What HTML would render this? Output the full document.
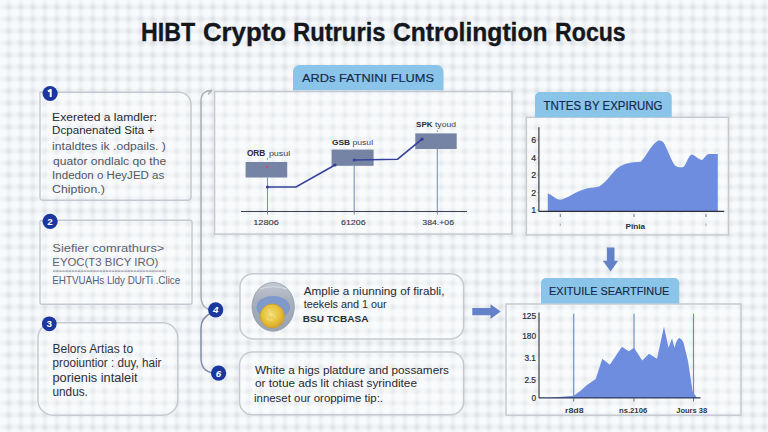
<!DOCTYPE html>
<html><head><meta charset="utf-8">
<style>
html,body{margin:0;padding:0;background:#f8fafc;}
body{width:768px;height:432px;overflow:hidden;}
svg{display:block;font-family:"Liberation Sans", sans-serif;}
</style></head><body>
<svg width="768" height="432" viewBox="0 0 768 432" font-family="Liberation Sans, sans-serif">
<defs>
<pattern id="grid" x="0" y="0" width="12" height="12" patternUnits="userSpaceOnUse">
<rect x="7.2" y="0" width="3.2" height="12" fill="#d0d5dc" fill-opacity="0.3"/>
<rect x="0" y="5.4" width="12" height="3.2" fill="#d0d5dc" fill-opacity="0.3"/>
<rect x="6.6" y="4.8" width="4.4" height="4.4" fill="#c9cfd6" fill-opacity="0.45"/>
</pattern>
<filter id="blur1" x="0" y="0" width="1" height="1"><feGaussianBlur stdDeviation="1.6"/></filter>
<radialGradient id="coin" cx="0.45" cy="0.42" r="0.6">
<stop offset="0" stop-color="#f2dd78"/><stop offset="0.6" stop-color="#e8c23c"/><stop offset="1" stop-color="#d4a02a"/>
</radialGradient>
<linearGradient id="shell" x1="0" y1="0" x2="0" y2="1">
<stop offset="0" stop-color="#c3c9d2"/><stop offset="0.35" stop-color="#a9b1be"/><stop offset="1" stop-color="#98a1b0"/>
</linearGradient>
</defs>
<rect width="768" height="432" fill="#f8fafc"/>
<rect width="768" height="432" fill="url(#grid)" filter="url(#blur1)"/>

<text x="141.09" y="40.6" font-size="24.9" fill="#14171c" font-weight="bold" stroke="#14171c" stroke-width="0.35" textLength="54.19" lengthAdjust="spacingAndGlyphs" >HIBT</text>
<text x="202.90" y="40.6" font-size="24.9" fill="#14171c" font-weight="bold" stroke="#14171c" stroke-width="0.35" textLength="83.09" lengthAdjust="spacingAndGlyphs" >Crypto</text>
<text x="292.99" y="40.6" font-size="24.9" fill="#14171c" font-weight="bold" stroke="#14171c" stroke-width="0.35" textLength="92.50" lengthAdjust="spacingAndGlyphs" >Rutruris</text>
<text x="392.90" y="40.6" font-size="24.9" fill="#14171c" font-weight="bold" stroke="#14171c" stroke-width="0.35" textLength="154.70" lengthAdjust="spacingAndGlyphs" >Cntrolingtion</text>
<text x="555.10" y="40.6" font-size="24.9" fill="#14171c" font-weight="bold" stroke="#14171c" stroke-width="0.35" textLength="70.59" lengthAdjust="spacingAndGlyphs" >Rocus</text>
<path d="M40,92.2 H179 A12,12 0 0 1 191,104.2 V197.3 A3,3 0 0 1 188,200.3 H43 A3,3 0 0 1 40,197.3 Z" fill="#ffffff" fill-opacity="0.3" stroke="#c6cad0" stroke-width="1.5"/>
<rect x="40" y="220.3" width="152" height="84" rx="2" fill="#ffffff" fill-opacity="0.3" stroke="#c6cad0" stroke-width="1.5"/>
<rect x="38" y="322.8" width="139.8" height="92.4" rx="15" fill="#ffffff" fill-opacity="0.3" stroke="#c6cad0" stroke-width="1.5"/>
<circle cx="50.1" cy="93.5" r="7.6" fill="#1b369e"/>
<path d="M47.9,91.3 L50.7,89.9 V97.0" fill="none" stroke="#ffffff" stroke-width="2" stroke-linejoin="round"/>
<circle cx="50.1" cy="221.3" r="7.6" fill="#1b369e"/>
<text x="50.1" y="224.8" font-size="9.8" fill="#ffffff" font-weight="bold" text-anchor="middle">2</text>
<circle cx="49.3" cy="323.8" r="7.4" fill="#1b369e"/>
<text x="49.3" y="327.3" font-size="9.8" fill="#ffffff" font-weight="bold" text-anchor="middle">3</text>
<text x="52.10" y="120.8" font-size="11.7" fill="#262a31" textLength="104.70" lengthAdjust="spacingAndGlyphs" >Exereted a lamdler:</text>
<text x="52.10" y="134.3" font-size="11.7" fill="#262a31" textLength="102.09" lengthAdjust="spacingAndGlyphs" >Dcpanenated Sita +</text>
<text x="52.10" y="149.6" font-size="11.7" fill="#51575f" textLength="113.70" lengthAdjust="spacingAndGlyphs" >intaldtes ik .odpails. )</text>
<text x="53.10" y="164.6" font-size="11.7" fill="#51575f" textLength="113.09" lengthAdjust="spacingAndGlyphs" >quator ondlalc qo the</text>
<text x="52.10" y="178.8" font-size="11.7" fill="#51575f" textLength="112.20" lengthAdjust="spacingAndGlyphs" >Indedon o HeyJED as</text>
<text x="52.10" y="192.6" font-size="11.7" fill="#51575f" textLength="52.69" lengthAdjust="spacingAndGlyphs" >Chiption.)</text>
<text x="52.30" y="251.6" font-size="11.6" fill="#5c6372" textLength="112.09" lengthAdjust="spacingAndGlyphs" >Siefier comrathurs&gt;</text>
<text x="52.30" y="266.2" font-size="11.6" fill="#5c6372" textLength="106.09" lengthAdjust="spacingAndGlyphs" >EYOC(T3 BICY IRO)</text>
<line x1="53" y1="271.1" x2="166" y2="271.1" stroke="#4a5262" stroke-opacity="0.75" stroke-width="0.9" stroke-dasharray="2.5 0.6"/>
<text x="52.30" y="283.8" font-size="11.6" fill="#56627a" textLength="127.90" lengthAdjust="spacingAndGlyphs" >EHTVUAHs Lldy DUrTi .Clice</text>
<text x="52.50" y="352.8" font-size="12.3" fill="#2d3138" textLength="80.59" lengthAdjust="spacingAndGlyphs" >Belors Artias to</text>
<text x="52.51" y="367.2" font-size="12.3" fill="#2d3138" textLength="108.89" lengthAdjust="spacingAndGlyphs" >prooiuntior : duy, hair</text>
<text x="52.49" y="381.5" font-size="12.3" fill="#2d3138" textLength="85.10" lengthAdjust="spacingAndGlyphs" >porienis intaleit</text>
<text x="52.51" y="395.6" font-size="12.3" fill="#2d3138" textLength="35.38" lengthAdjust="spacingAndGlyphs" >undus.</text>
<path d="M211.8,90.2 L207,91.2 Q201,93 201,101 V296 Q201,309 212,309.8" fill="none" stroke="#a6abb2" stroke-width="1.4"/>
<path d="M211.5,90.5 L208.2,94.3" fill="none" stroke="#a6abb2" stroke-width="1.3"/>
<path d="M211,313 Q201,318 201,328 V358 Q201,372 214,373" fill="none" stroke="#7f88a6" stroke-width="1.4"/>
<circle cx="215.7" cy="309.8" r="7.6" fill="#1b369e"/>
<text x="215.7" y="313.3" font-size="9.8" fill="#ffffff" font-weight="bold" text-anchor="middle" font-style="italic">4</text>
<circle cx="218.6" cy="373.2" r="7.6" fill="#1b369e"/>
<text x="218.6" y="376.7" font-size="9.8" fill="#ffffff" font-weight="bold" text-anchor="middle" font-style="italic">6</text>
<rect x="214.5" y="91.5" width="297.5" height="142.6" fill="#ffffff" fill-opacity="0.3" stroke="#c6cad0" stroke-width="1.5"/>
<path d="M293,90.3 V71.5 A6.5,6.5 0 0 1 299.5,65 H437 A6.5,6.5 0 0 1 443.5,71.5 V90.3 Z" fill="#8ac4e9"/>
<text x="301.90" y="81.9" font-size="11.5" fill="#16294a" stroke="#16294a" stroke-width="0.15" textLength="132.20" lengthAdjust="spacingAndGlyphs" >ARDs FATNINI FLUMS</text>
<line x1="241" y1="211.5" x2="467" y2="211.5" stroke="#3a4050" stroke-width="1.2"/>
<line x1="267.5" y1="177.5" x2="267.5" y2="211.5" stroke="#7a95b2" stroke-width="1.1"/>
<line x1="267.5" y1="212" x2="267.5" y2="214.5" stroke="#50555e" stroke-width="0.7"/>
<line x1="354.2" y1="165.8" x2="354.2" y2="211.5" stroke="#7a95b2" stroke-width="1.1"/>
<line x1="354.2" y1="212" x2="354.2" y2="214.5" stroke="#50555e" stroke-width="0.7"/>
<line x1="437.3" y1="149" x2="437.3" y2="211.5" stroke="#7a95b2" stroke-width="1.1"/>
<line x1="437.3" y1="212" x2="437.3" y2="214.5" stroke="#50555e" stroke-width="0.7"/>
<rect x="245.6" y="162" width="41.6" height="15.5" fill="#7583a5"/>
<rect x="331.6" y="149.6" width="42" height="16.2" fill="#7583a5"/>
<rect x="415.3" y="133.4" width="41.4" height="15.6" fill="#7583a5"/>
<polyline points="267.5,187 296,187 335,165" fill="none" stroke="#34409a" stroke-width="1.5"/>
<polyline points="354.2,160 397.6,159.2 422,139.2" fill="none" stroke="#34409a" stroke-width="1.5"/>
<circle cx="267.5" cy="187" r="1.6" fill="#34409a"/>
<circle cx="335" cy="165" r="1.6" fill="#34409a"/>
<circle cx="354.2" cy="160" r="1.6" fill="#34409a"/>
<circle cx="422" cy="139.2" r="1.6" fill="#34409a"/>
<circle cx="267" cy="167" r="1.2" fill="#d04a6a"/>
<line x1="267.4" y1="157.8" x2="267.4" y2="160.2" stroke="#6a6f78" stroke-width="0.7"/>
<line x1="437.3" y1="130" x2="437.3" y2="132" stroke="#6a6f78" stroke-width="0.7"/>
<text x="246.90" y="155.7" font-size="8.5" fill="#2a2e36" font-weight="bold" textLength="18.46" lengthAdjust="spacingAndGlyphs" >ORB</text>
<text x="268.90" y="155.7" font-size="7" fill="#3e434c" textLength="21.38" lengthAdjust="spacingAndGlyphs" >pusul</text>
<text x="332.00" y="144.8" font-size="7.9" fill="#2a2e36" font-weight="bold" textLength="18.18" lengthAdjust="spacingAndGlyphs" >GSB</text>
<text x="352.49" y="144.8" font-size="7" fill="#3e434c" textLength="20.57" lengthAdjust="spacingAndGlyphs" >pusul</text>
<text x="416.10" y="126.7" font-size="7.9" fill="#2a2e36" font-weight="bold" textLength="16.53" lengthAdjust="spacingAndGlyphs" >SPK</text>
<text x="435.00" y="126.7" font-size="7" fill="#3e434c" textLength="20.89" lengthAdjust="spacingAndGlyphs" >tyoud</text>
<text x="253.16" y="224.8" font-size="7.8" fill="#33373f" stroke="#33373f" stroke-width="0.1" textLength="25.73" lengthAdjust="spacingAndGlyphs" >12806</text>
<text x="341.00" y="224.9" font-size="7.8" fill="#33373f" stroke="#33373f" stroke-width="0.1" textLength="24.59" lengthAdjust="spacingAndGlyphs" >61206</text>
<text x="422.39" y="224.9" font-size="7.8" fill="#33373f" stroke="#33373f" stroke-width="0.1" textLength="31.58" lengthAdjust="spacingAndGlyphs" >384.+06</text>
<rect x="526.3" y="117.3" width="202.2" height="117.6" fill="#ffffff" fill-opacity="0.3" stroke="#c6cad0" stroke-width="1.5"/>
<path d="M535,117.3 V97 A5,5 0 0 1 540,92 H666.7 A5,5 0 0 1 671.7,97 V117.3 Z" fill="#8ac4e9"/>
<text x="543.60" y="109.8" font-size="12.6" fill="#16294a" stroke="#16294a" stroke-width="0.2" textLength="118.79" lengthAdjust="spacingAndGlyphs" >TNTES BY EXPIRUNG</text>
<path d="M547.8,211.4 V193.3 C553,195.5 556,199.7 560.3,199.7 C566,199.5 576,191 586.7,188.6 C592,187.2 596,187.5 599.2,186.5 C607,182 612,172 619,167 C625,163 630,162.5 640.8,161.7 C646,157 652,143 658.5,140.6 C661,140 663,141.5 664.5,144 C668,151 672,162 675,165.5 C678,167.5 682,168 684,166.5 C687,162 689,155 691.7,154.4 C694,154.5 699,159.5 702,160 C704,159 706,154 709,153.9 H717.8 V211.4 Z" fill="#6e8ddf"/>
<line x1="538.9" y1="127.3" x2="538.9" y2="211.8" stroke="#2c3038" stroke-width="1.1"/>
<line x1="538.9" y1="211.4" x2="724.2" y2="211.4" stroke="#2c3038" stroke-width="1.2"/>
<text x="536.2" y="142.6" font-size="8.8" fill="#2a2e36" text-anchor="end" stroke="#2a2e36" stroke-width="0.2">6</text>
<line x1="537.3" y1="139.6" x2="538.9" y2="139.6" stroke="#666" stroke-width="0.6"/>
<text x="536.2" y="160.9" font-size="8.8" fill="#2a2e36" text-anchor="end" stroke="#2a2e36" stroke-width="0.2">4</text>
<line x1="537.3" y1="157.9" x2="538.9" y2="157.9" stroke="#666" stroke-width="0.6"/>
<text x="536.2" y="178" font-size="8.8" fill="#2a2e36" text-anchor="end" stroke="#2a2e36" stroke-width="0.2">2</text>
<line x1="537.3" y1="175" x2="538.9" y2="175" stroke="#666" stroke-width="0.6"/>
<text x="536.2" y="195.7" font-size="8.8" fill="#2a2e36" text-anchor="end" stroke="#2a2e36" stroke-width="0.2">2</text>
<line x1="537.3" y1="192.7" x2="538.9" y2="192.7" stroke="#666" stroke-width="0.6"/>
<text x="536.2" y="212.8" font-size="8.8" fill="#2a2e36" text-anchor="end" stroke="#2a2e36" stroke-width="0.2">1</text>
<line x1="537.3" y1="209.8" x2="538.9" y2="209.8" stroke="#666" stroke-width="0.6"/>
<line x1="560.3" y1="214" x2="560.3" y2="217" stroke="#50555e" stroke-width="0.8"/>
<line x1="560.3" y1="223.5" x2="560.3" y2="226" stroke="#80858e" stroke-width="0.6"/>
<line x1="634" y1="214" x2="634" y2="217" stroke="#50555e" stroke-width="0.8"/>
<line x1="634" y1="223.5" x2="634" y2="226" stroke="#80858e" stroke-width="0.6"/>
<line x1="706" y1="214" x2="706" y2="217" stroke="#50555e" stroke-width="0.8"/>
<line x1="706" y1="223.5" x2="706" y2="226" stroke="#80858e" stroke-width="0.6"/>
<text x="625.40" y="228.5" font-size="8" fill="#2a2e36" font-weight="bold" textLength="19.76" lengthAdjust="spacingAndGlyphs" >Pinia</text>
<path d="M606.9,247.4 H614.5 V260.8 H618.2 L610.6,271.5 L602.8,260.8 H606.9 Z" fill="#6482c9"/>
<path d="M472.3,308 H490.5 V304.3 L500.7,311.6 L490.5,318.9 V315.3 H472.3 Z" fill="#6482c9"/>
<rect x="506" y="304" width="235" height="111.2" fill="#ffffff" fill-opacity="0.3" stroke="#c6cad0" stroke-width="1.5"/>
<path d="M541,303.5 V283 A5,5 0 0 1 546,278 H674.3 A5,5 0 0 1 679.3,283 V303.5 Z" fill="#8ac4e9"/>
<text x="549.10" y="295.2" font-size="11.7" fill="#16294a" stroke="#16294a" stroke-width="0.15" textLength="120.29" lengthAdjust="spacingAndGlyphs" >EXITUILE SEARTFINUE</text>
<line x1="573.7" y1="313.7" x2="573.7" y2="398" stroke="#6a8cb6" stroke-width="1.1"/>
<line x1="573.7" y1="398" x2="573.7" y2="401.5" stroke="#50555e" stroke-width="0.8"/>
<line x1="634" y1="313.7" x2="634" y2="398" stroke="#6a8cb6" stroke-width="1.1"/>
<line x1="634" y1="398" x2="634" y2="401.5" stroke="#50555e" stroke-width="0.8"/>
<line x1="693.5" y1="313.7" x2="693.5" y2="398" stroke="#6a8cb6" stroke-width="1.1"/>
<line x1="693.5" y1="398" x2="693.5" y2="401.5" stroke="#50555e" stroke-width="0.8"/>
<path d="M548,398 L573.7,395.8 Q581,391 587,385 L595.7,379 L602.3,358.8 L609.8,364.8 L621.9,346.8 L628.8,351.3 L634,347.7 L642.3,360.6 L649,353.7 L657,358.8 L664,326.6 L668.5,347.7 L672,338.6 L674.5,347.7 Q677,338 679.7,338 Q683,340 683.6,343 L688,361 L692.6,391.3 L697,398 Z" fill="#6e8ddf"/>
<line x1="539" y1="312.5" x2="539" y2="398.3" stroke="#2c3038" stroke-width="1.1"/>
<line x1="539" y1="397.8" x2="700.5" y2="397.8" stroke="#2c3a5a" stroke-width="1.3"/>
<text x="536" y="318.5" font-size="8.3" fill="#2a2e36" text-anchor="end" stroke="#2a2e36" stroke-width="0.2">125</text>
<text x="536" y="338.6" font-size="8.3" fill="#2a2e36" text-anchor="end" stroke="#2a2e36" stroke-width="0.2">180</text>
<text x="536" y="360.6" font-size="8.3" fill="#2a2e36" text-anchor="end" stroke="#2a2e36" stroke-width="0.2">3.1</text>
<text x="536" y="383" font-size="8.3" fill="#2a2e36" text-anchor="end" stroke="#2a2e36" stroke-width="0.2">2.5</text>
<text x="536" y="401" font-size="8.3" fill="#2a2e36" text-anchor="end" stroke="#2a2e36" stroke-width="0.2">0</text>
<text x="564.99" y="413" font-size="7.5" fill="#33373f" font-weight="bold" textLength="18.56" lengthAdjust="spacingAndGlyphs" >r8d8</text>
<text x="619.00" y="413" font-size="7.5" fill="#33373f" font-weight="bold" textLength="28.18" lengthAdjust="spacingAndGlyphs" >ns.2106</text>
<text x="676.20" y="413" font-size="7.5" fill="#33373f" font-weight="bold" textLength="31.00" lengthAdjust="spacingAndGlyphs" >Jours 38</text>
<rect x="240" y="273.7" width="223.7" height="65.2" rx="13" fill="#ffffff" fill-opacity="0.3" stroke="#c6cad0" stroke-width="1.5"/>
<rect x="239.5" y="352" width="224.2" height="62.8" rx="13" fill="#ffffff" fill-opacity="0.3" stroke="#c6cad0" stroke-width="1.5"/>
<ellipse cx="273.2" cy="306.8" rx="21.2" ry="24.4" fill="url(#shell)" stroke="#8d95a3" stroke-width="0.7"/>
<path d="M260,289 Q273,284.5 287,289" fill="none" stroke="#e3e7ed" stroke-width="1" stroke-opacity="0.7"/>
<ellipse cx="273.2" cy="307.5" rx="16.8" ry="11.5" fill="#8099cb"/>
<circle cx="272.3" cy="316" r="12" fill="url(#coin)" stroke="#cf9f2a" stroke-width="0.8"/>
<path d="M268,309 q3,2 2,6 q4,-1 5,3 M266,318 q3,3 7,2" fill="none" stroke="#f7e9a0" stroke-width="0.9" stroke-opacity="0.7"/>
<text x="303.75" y="295.1" font-size="11.2" fill="#272b31" textLength="140.65" lengthAdjust="spacingAndGlyphs" >Amplie a niunning of firabli,</text>
<text x="303.75" y="308.2" font-size="11.2" fill="#272b31" textLength="82.85" lengthAdjust="spacingAndGlyphs" >teekels and 1 our</text>
<text x="302.75" y="321.75" font-size="9.7" fill="#272b31" font-weight="bold" textLength="65.74" lengthAdjust="spacingAndGlyphs" >BSU TCBASA</text>
<text x="255.00" y="373.6" font-size="11" fill="#262a30" textLength="194.00" lengthAdjust="spacingAndGlyphs" >White a higs platdure and possamers</text>
<text x="255.00" y="387.1" font-size="11" fill="#262a30" textLength="162.00" lengthAdjust="spacingAndGlyphs" >or totue ads lit chiast syrinditee</text>
<text x="254.00" y="401.7" font-size="11" fill="#262a30" textLength="129.00" lengthAdjust="spacingAndGlyphs" >inneset our oroppime tip:.</text>
</svg></body></html>
